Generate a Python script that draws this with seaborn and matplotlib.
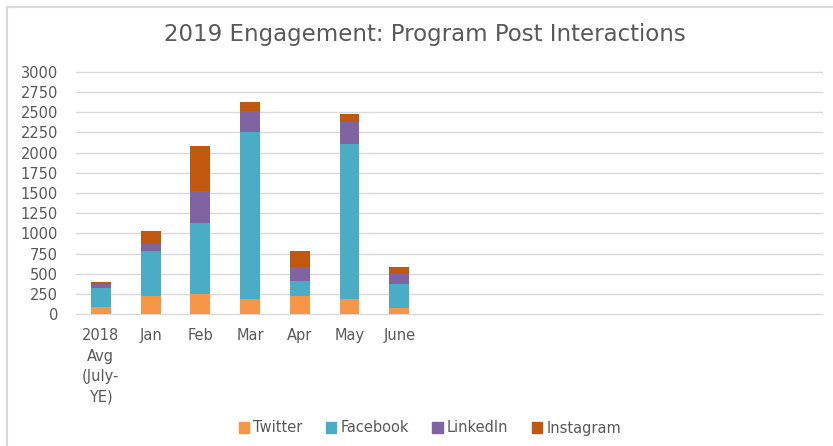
import matplotlib
matplotlib.use("Agg")
import matplotlib.pyplot as plt
import matplotlib.patches as mpatches
import seaborn as sns
import pandas as pd
import numpy as np

# ---- data ----
categories = ["2018\nAvg\n(July-\nYE)", "Jan", "Feb", "Mar", "Apr", "May", "June"]
twitter   = [95, 222, 247, 185, 222, 185, 78]
facebook  = [235, 561, 878, 2073, 194, 1925, 297]
linkedin  = [41, 82, 404, 256, 173, 272, 128]
instagram = [25, 169, 556, 107, 190, 90, 86]
series_names = ["Twitter", "Facebook", "LinkedIn", "Instagram"]
colors = ["#F79646", "#4BACC6", "#8064A2", "#C0580F"]
n_slots = 15  # chart axis reserves space for 15 categories
yticks = list(range(0, 3001, 250))

sns.set_theme(style="white")
plt.rcParams["font.family"] = ["DejaVu Sans"]
text_color = "#595959"

df = pd.DataFrame({"cat": categories, "Twitter": twitter, "Facebook": facebook,
                   "LinkedIn": linkedin, "Instagram": instagram})
cum = df[series_names].cumsum(axis=1)

fig = plt.figure(figsize=(8.33, 4.46), dpi=100)
ax = fig.add_axes([76/833, 1-314.3/446, (822-76)/833, (314.3-71.7)/446])

# draw stacked bars back-to-front (cumulative totals)
for name, col in reversed(list(zip(series_names, colors))):
    sns.barplot(x=df["cat"], y=cum[name], color=col, width=0.4, ax=ax,
                order=categories, saturation=1, linewidth=0, zorder=3)

ax.set_xlim(-0.5, n_slots - 0.5)
ax.set_ylim(0, 3000)
ax.set_yticks(yticks)
ax.set_yticklabels([str(v) for v in yticks])
ax.yaxis.grid(True, color="#D9D9D9", linewidth=1.0, zorder=0)
for gl in ax.get_ygridlines():
    gl.set_clip_on(False)
ax.set_axisbelow(True)
for s in ax.spines.values():
    s.set_visible(False)
ax.set_xlabel("")
ax.set_ylabel("")
ax.tick_params(axis="y", length=0, pad=13, labelsize=10.5, labelcolor=text_color)
ax.tick_params(axis="x", length=0, pad=10, labelsize=10.5, labelcolor=text_color)
for lbl in ax.get_xticklabels():
    lbl.set_linespacing(1.45)

fig.text(425/833, 1-35/446, "2019 Engagement: Program Post Interactions",
         ha="center", va="center", fontsize=16.5, color=text_color)

handles = [mpatches.Patch(color=c, label=n) for n, c in zip(series_names, colors)]
fig.legend(handles=handles, loc="center", bbox_to_anchor=(430/833, 1-428/446),
           ncol=4, frameon=False, fontsize=10.5, handlelength=0.7, handleheight=0.7,
           handletextpad=0.3, columnspacing=1.6, labelcolor=text_color)

# chart border
fig.patches.append(mpatches.Rectangle((7/833, -0.01), 1.0, 1-7/446+0.01,
                                      transform=fig.transFigure, fill=False,
                                      edgecolor="#D9D9D9", linewidth=1.5))

fig.savefig("out.png", dpi=100)
